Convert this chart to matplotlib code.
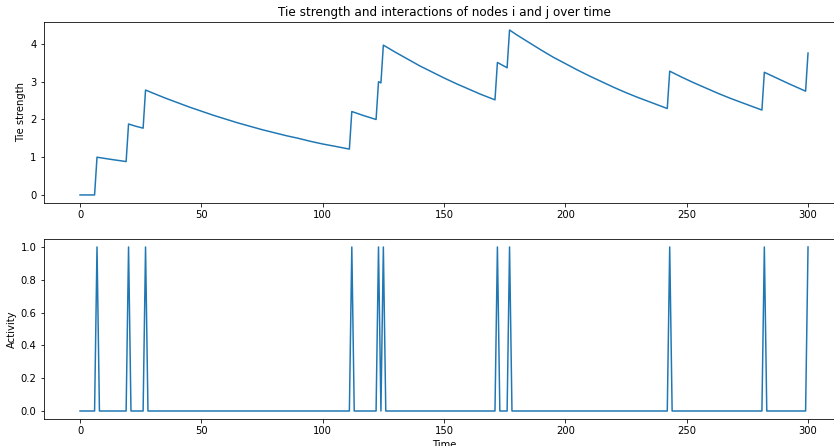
import matplotlib
matplotlib.use("Agg")
import matplotlib.pyplot as plt
import numpy as np

# tie strength (time, value)
tie_t = [0, 6, 7, 13, 19, 20, 23, 26, 27, 30, 35, 40, 45, 50, 55, 60, 65, 70,
         75, 80, 85, 90, 95, 100, 105, 111, 112, 117, 122, 123, 124, 125, 130,
         135, 140, 145, 150, 155, 160, 165, 171, 172, 174, 176, 177, 180, 185,
         190, 195, 200, 205, 210, 215, 220, 225, 230, 235, 242, 243, 248, 253,
         258, 263, 268, 273, 281, 282, 287, 292, 299, 300]
tie_s = [0.0, 0.0, 1.0, 0.94, 0.885, 1.88, 1.82, 1.77, 2.78, 2.70, 2.57, 2.45,
         2.33, 2.22, 2.11, 2.01, 1.91, 1.82, 1.73, 1.65, 1.57, 1.50, 1.42, 1.35,
         1.29, 1.215, 2.21, 2.10, 2.00, 3.0, 2.97, 3.97, 3.78, 3.60, 3.42, 3.26,
         3.10, 2.95, 2.81, 2.67, 2.52, 3.51, 3.44, 3.37, 4.37, 4.24, 4.04, 3.84,
         3.65, 3.48, 3.31, 3.15, 3.00, 2.85, 2.71, 2.58, 2.46, 2.29, 3.28, 3.12,
         2.97, 2.83, 2.69, 2.56, 2.44, 2.25, 3.25, 3.10, 2.95, 2.75, 3.76]

# interaction times (activity = 1)
event_times = [7, 20, 27, 112, 123, 125, 172, 177, 243, 282, 300]
n_steps = 301

time = np.arange(n_steps)
activity = np.zeros(n_steps)
activity[event_times] = 1

fig = plt.figure(figsize=(834 / 72, 446 / 72), dpi=72)
ax1 = fig.add_axes([0.0523, 0.5444, 0.9602, 0.4069])
ax2 = fig.add_axes([0.0523, 0.0601, 0.9602, 0.4045])

ax1.plot(tie_t, tie_s, color="#1f77b4", lw=1.5)
ax1.set_ylabel("Tie strength")
ax1.set_title("Tie strength and interactions of nodes i and j over time", fontsize=12)

ax2.plot(time, activity, color="#1f77b4", lw=1.5)
ax2.set_ylabel("Activity")
ax2.set_xlabel("Time")

for ax in (ax1, ax2):
    ax.set_xlim(-15, 315)
ax1.set_ylim(-0.2185, 4.59)
ax2.set_ylim(-0.05, 1.05)

fig.savefig("out.png", dpi=72)
